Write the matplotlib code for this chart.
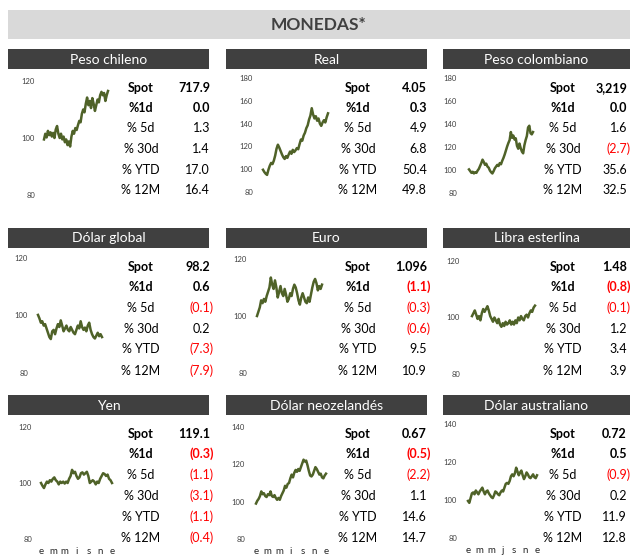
import numpy as np
import matplotlib
matplotlib.use("Agg")
import matplotlib.pyplot as plt
from matplotlib.patches import Rectangle

plt.rcParams['font.family'] = ['Lato', 'DejaVu Sans']

# Nombres de las monedas y datos de la tabla
monedas = ["Peso chileno", "Real", "Peso colombiano",
           "Dólar global", "Euro", "Libra esterlina",
           "Yen", "Dólar neozelandés", "Dólar australiano"]
spot = ["717.9", "4.05", "3,219", "98.2", "1.096", "1.48", "119.1", "0.67", "0.72"]
var_1d = [0.0, 0.3, 0.0, 0.6, -1.1, -0.8, -0.3, -0.5, 0.5]
var_5d = [1.3, 4.9, 1.6, -0.1, -0.3, -0.1, -1.1, -2.2, -0.9]
var_30d = [1.4, 6.8, -2.7, 0.2, -0.6, 1.2, -3.1, 1.1, 0.2]
var_ytd = [17.0, 50.4, 35.6, -7.3, 9.5, 3.4, -1.1, 14.6, 11.9]
var_12m = [16.4, 49.8, 32.5, -7.9, 10.9, 3.9, -0.4, 14.7, 12.8]
filas = ["Spot", "%1d", "% 5d", "% 30d", "% YTD", "% 12M"]

# Series (base 100)
s_clp = [99.5, 101.5, 100.2, 102.5, 101.0, 102.0, 100.5, 101.8, 100.0, 103.0, 104.2, 101.5, 100.0, 101.5,
         99.5, 100.5, 98.5, 99.5, 97.5, 98.8, 97.0, 100.5, 102.5, 101.5, 103.5, 102.8, 104.5, 106.0, 105.5,
         108.5, 110.0, 109.0, 112.0, 114.2, 111.5, 113.0, 110.5, 114.0, 112.0, 109.5, 111.5, 113.5, 112.5,
         115.0, 116.2, 115.0, 115.8, 113.0, 115.0, 116.5]
s_brl = [99.5, 97.5, 96.0, 95.0, 99.5, 103.0, 105.5, 104.5, 107.5, 112.0, 118.0, 121.5, 119.0, 116.0, 113.0,
         110.5, 109.0, 111.5, 110.0, 113.0, 115.5, 113.5, 117.0, 115.0, 116.5, 118.5, 117.5, 122.0, 126.0,
         125.0, 129.5, 132.0, 136.0, 138.5, 143.5, 147.0, 153.5, 148.0, 144.5, 146.5, 142.5, 144.5, 140.0,
         138.0, 141.0, 143.0, 141.0, 145.5, 149.0]
s_cop = [100.5, 99.0, 97.5, 98.5, 97.0, 98.0, 97.5, 99.5, 101.0, 103.5, 106.0, 109.0, 107.0, 104.5, 105.5,
         103.0, 102.0, 99.5, 98.0, 97.0, 99.0, 101.5, 103.0, 104.5, 103.5, 106.0, 105.0, 108.0, 110.5, 113.5,
         117.0, 120.5, 123.5, 126.0, 133.0, 128.0, 130.0, 126.5, 127.5, 121.0, 118.5, 123.0, 119.0, 116.0,
         114.5, 121.5, 126.0, 129.5, 137.0, 138.5, 132.0, 131.0, 133.0]
s_dxy = [100.2, 99.0, 97.5, 98.0, 96.5, 97.0, 95.5, 94.0, 92.5, 91.8, 94.5, 95.0, 93.5, 95.5, 97.0, 96.0,
         98.3, 96.5, 94.5, 95.5, 96.5, 95.0, 94.5, 96.0, 95.0, 94.0, 93.5, 95.0, 96.5, 95.5, 98.0, 96.0,
         95.0, 95.8, 94.5, 96.5, 97.5, 95.0, 93.5, 92.5, 92.0, 93.0, 94.0, 92.8, 93.5, 92.5]
s_eur = [100.0, 101.5, 103.0, 105.5, 104.5, 106.0, 105.0, 107.0, 108.5, 110.0, 113.5, 111.0, 109.5, 112.5,
         110.0, 106.5, 108.5, 110.5, 108.0, 107.0, 109.5, 107.5, 105.0, 106.0, 108.0, 107.0, 109.5, 111.0,
         110.0, 108.0, 105.5, 104.0, 106.5, 108.0, 106.5, 105.0, 104.5, 106.5, 105.0, 107.5, 110.0, 112.0,
         113.0, 111.5, 109.0, 110.5, 109.5, 111.0]
s_gbp = [100.5, 101.5, 102.5, 101.0, 99.5, 100.5, 99.0, 101.5, 103.0, 102.0, 103.0, 104.0, 102.5, 100.5,
         99.5, 98.5, 100.0, 99.0, 98.0, 99.5, 97.5, 96.7, 98.0, 97.0, 98.5, 97.5, 98.0, 99.0, 97.5, 98.5,
         97.5, 99.0, 98.0, 100.0, 99.0, 100.5, 99.5, 99.0, 100.5, 101.0, 100.0, 101.5, 102.5, 102.0, 103.5, 104.2]
s_jpy = [100.0, 99.0, 98.2, 99.5, 100.5, 100.0, 101.0, 100.5, 101.5, 102.0, 101.0, 100.5, 99.5, 100.5, 100.0,
         100.5, 99.8, 100.5, 100.0, 101.5, 102.5, 104.7, 103.5, 104.0, 102.5, 101.5, 102.0, 103.5, 103.8,
         103.0, 103.5, 104.0, 102.5, 100.0, 100.5, 101.0, 100.5, 99.5, 100.5, 100.0, 101.5, 102.5, 103.5,
         103.2, 102.5, 103.0, 101.5, 101.0, 100.0]
s_nzd = [99.0, 100.5, 101.5, 103.0, 105.5, 104.0, 104.5, 103.0, 102.5, 104.0, 103.5, 105.5, 103.0, 102.5,
         103.5, 102.0, 101.0, 102.0, 101.0, 103.0, 104.5, 106.0, 108.5, 107.5, 109.5, 110.0, 112.5, 114.5,
         113.0, 115.5, 117.0, 116.0, 117.5, 116.5, 118.5, 120.5, 122.5, 121.5, 122.0, 119.5, 116.5, 114.0,
         113.5, 114.5, 116.5, 118.5, 117.5, 116.0, 114.5, 115.0, 113.0, 112.5, 114.0, 115.0]
s_aud = [99.5, 98.5, 101.0, 103.5, 104.0, 103.0, 105.0, 104.0, 103.0, 104.5, 105.5, 106.5, 104.5, 103.0,
         104.5, 105.0, 103.5, 102.5, 101.5, 101.0, 102.5, 104.5, 104.0, 103.0, 102.5, 104.0, 105.0, 104.5,
         106.5, 108.5, 109.0, 108.5, 110.0, 112.5, 113.5, 112.5, 114.0, 117.0, 115.0, 113.0, 114.5, 115.5,
         113.0, 111.0, 112.5, 114.5, 113.5, 112.0, 111.5, 112.5, 113.5, 112.0, 111.5, 113.0]
series = [s_clp, s_brl, s_cop, s_dxy, s_eur, s_gbp, s_jpy, s_nzd, s_aud]

# Escalas del eje y de cada panel
y_ticks = [[80, 100, 120], [80, 100, 120, 140, 160, 180], [80, 100, 120, 140, 160, 180],
           [80, 100, 120], [80, 100, 120], [80, 100, 120],
           [80, 100, 120], [80, 100, 120, 140], [80, 100, 120, 140]]
meses = [["e", "m", "m", "i", "s", "n", "e"],
         ["e", "m", "m", "i", "s", "n", "e"],
         ["e", "m", "m", "j", "s", "n", "e"]]

W, H = 630, 557
fig = plt.figure(figsize=(W / 100, H / 100), dpi=100)

def fx(x):
    return x / W

def fy(y):
    return 1 - y / H

def caja(x0, y0, x1, y1, color):
    fig.patches.append(Rectangle((fx(x0), fy(y1)), (x1 - x0) / W, (y1 - y0) / H,
                                 transform=fig.transFigure, color=color, lw=0, zorder=0))

# Titulo
caja(8, 10, 630, 39, "#d9d9d9")
fig.text(fx(319), fy(25), "MONEDAS*", ha="center", va="center", fontsize=12.5,
         fontweight="bold", color="#404040")

# Posiciones (pixeles) de cada panel
col_x = [(8, 209), (226, 427), (443, 630)]
fila_y = [(49, 69), (228, 248), (395, 415)]
ejes = [(44, 108, 81, 195), (263, 328, 78, 192), (469, 533, 78, 193),
        (38, 102, 258, 373), (257, 322, 259, 373), (472, 535, 261, 374),
        (41, 112, 427, 539), (256, 326, 427, 539), (468, 537, 424, 538)]
pads = [9, 10, 12, 10, 10, 12, 9, 11, 11]
filas_y = [[88, 108, 128, 149, 170, 190],
           [267, 287, 308, 329, 349, 371],
           [434, 454, 475, 496, 517, 538]]
etiq_x = [141, 358, 563]
valor_x = [210, 427, 627]

def fmt(v):
    if v < 0:
        return "(%.1f)" % abs(v)
    return "%.1f" % v

for i, nombre in enumerate(monedas):
    r, c = divmod(i, 3)
    x0, x1 = col_x[c]
    y0, y1 = fila_y[r]
    caja(x0, y0, x1, y1, "#404040")
    fig.text(fx((x0 + x1) / 2), fy((y0 + y1) / 2 + 0.5), nombre, ha="center", va="center",
             fontsize=10, color="white")

    # grafico
    ax0, ax1, ayt, ayb = ejes[i]
    ax = fig.add_axes([fx(ax0), fy(ayb), (ax1 - ax0) / W, (ayb - ayt) / H])
    s = series[i]
    ax.plot(range(len(s)), s, color="#4f6228", lw=1.8, clip_on=False)
    ax.set_xlim(0, len(s) - 1)
    ax.set_ylim(y_ticks[i][0], y_ticks[i][-1])
    ax.set_yticks(y_ticks[i])
    ax.tick_params(axis="y", length=0, pad=pads[i] * 0.72, labelsize=5.5, labelcolor="#404040")
    if r == 2:
        ax.set_xticks(np.linspace(0, len(s) - 1, 7))
        ax.set_xticklabels(meses[c])
        ax.tick_params(axis="x", length=0, pad=5.5, labelsize=7, labelcolor="#262626")
    else:
        ax.set_xticks([])
    for sp in ax.spines.values():
        sp.set_visible(False)
    ax.patch.set_alpha(0)

    # tabla de variaciones
    valores = [spot[i], var_1d[i], var_5d[i], var_30d[i], var_ytd[i], var_12m[i]]
    for k, etiqueta in enumerate(filas):
        peso = "bold" if k < 2 else "normal"
        yy = fy(filas_y[r][k])
        fig.text(fx(etiq_x[c]), yy, etiqueta, ha="center", va="center", fontsize=9,
                 fontweight=peso, color="black")
        v = valores[k]
        if k == 0:
            txt, col, xr = v, "black", valor_x[c]
        else:
            txt = fmt(v)
            col = "#ff0000" if v < 0 else "black"
            xr = valor_x[c] + (4 if v < 0 else 0)
        fig.text(fx(xr), yy, txt, ha="right", va="center", fontsize=9, fontweight=peso, color=col)

fig.savefig("out.png", dpi=100)
